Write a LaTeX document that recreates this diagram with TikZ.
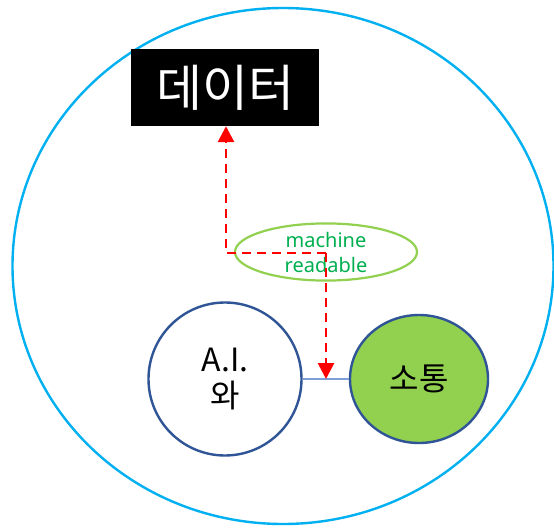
\documentclass[tikz,border=0pt]{standalone}
\usepackage{fontspec}
\setmainfont{Noto Sans}
\newfontfamily\kr{Noto Sans CJK KR}
\usetikzlibrary{arrows.meta,shapes.geometric}
\definecolor{cyanring}{HTML}{00B0F0}
\definecolor{darkblue}{HTML}{2F5597}
\definecolor{lightgreen}{HTML}{92D050}
\definecolor{mrgreen}{HTML}{00B050}
\definecolor{ringgreen}{HTML}{92D050}
\definecolor{linkblue}{HTML}{7F9FD8}
\tikzset{
  redarrow/.style={draw=red, line width=2.8pt, dash pattern=on 9pt off 6pt, -{Triangle[length=16pt,width=16pt]}},
  bubble/.style={draw=darkblue, line width=2.4pt, inner sep=0pt},
}
\begin{document}
\begin{tikzpicture}[x=1pt,y=-1pt]
\useasboundingbox[fill=white] (0,0) rectangle (554,530);
\node[draw=cyanring, line width=2.4pt, ellipse, minimum width=541pt, minimum height=516pt, inner sep=0pt] (outer) at (283,266) {};
\node[fill=black, minimum width=188pt, minimum height=77pt, inner sep=0pt, text=white, font=\kr\fontsize{50}{56}\selectfont] (data) at (225,87.5) {데이터};
\node[draw=ringgreen, line width=2.2pt, ellipse, minimum width=182pt, minimum height=48pt, inner sep=0pt, text=mrgreen, align=center, font=\fontsize{20}{25}\selectfont] (mr) at (326,252) {machine\\readable};
\node[bubble, circle, minimum size=153pt, fill=white, align=center, font=\kr\fontsize{32}{36}\selectfont] (ai) at (225,379) {A.I.\\와};
\node[bubble, ellipse, minimum width=138pt, minimum height=128pt, fill=lightgreen, font=\kr\fontsize{32}{36}\selectfont] (talk) at (419,379) {소통};
\draw[linkblue, line width=1.8pt] (ai.east) -- coordinate (mid) (talk.west);
\coordinate (corner) at (226,253);
\coordinate (start) at (326,253);
\draw[redarrow] (start) -- (corner) -- (corner |- data.south);
\draw[redarrow] (start) -- (start |- mid);
\end{tikzpicture}
\end{document}
